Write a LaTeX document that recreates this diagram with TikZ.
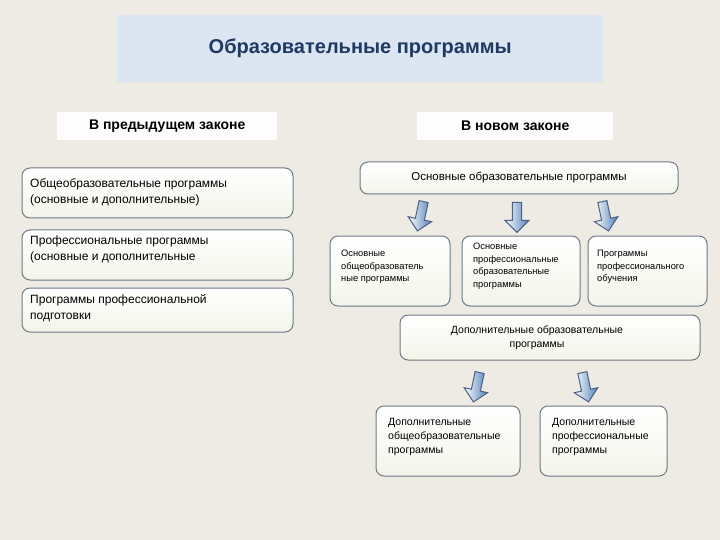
\documentclass[tikz,border=0pt]{standalone}
\usepackage{fontspec}
\setmainfont{Liberation Sans}
\usetikzlibrary{shapes.arrows}
\definecolor{bg}{HTML}{EEEBE4}
\definecolor{ttl}{HTML}{DCE6F2}
\definecolor{tblue}{HTML}{1F3864}
\definecolor{bx}{HTML}{F3F5EA}
\definecolor{ed}{HTML}{6E7A86}
\definecolor{ab}{HTML}{4F7FB8}
\tikzset{
 rbox/.style={draw=ed, line width=1pt, rounded corners=8pt, top color=white, bottom color=bx},
 hdr/.style={fill=white!92!bg, font=\bfseries\fontsize{14}{16}\selectfont},
 txt/.style={font=\fontsize{12}{16}\selectfont, align=left, anchor=north west, inner sep=0pt},
 stxt/.style={font=\fontsize{9.3}{12.5}\selectfont, align=left, anchor=north west, inner sep=0pt},
 darr/.style={single arrow, draw=tblue!80, line width=1pt, left color=white, right color=ab, minimum height=30pt, minimum width=24pt, single arrow head extend=4pt, shape border rotate=270, inner sep=2pt}
}
\begin{document}
\begin{tikzpicture}[x=1pt,y=-1pt]
\fill[bg] (0,0) rectangle (720,540);
\useasboundingbox (0,0) rectangle (720,540);
\node[fill=ttl, minimum width=486pt, minimum height=67pt, anchor=north west, font=\bfseries\fontsize{20}{22}\selectfont, text=tblue] (title) at (117,15) {Образовательные программы};
\node[text=white!85!gray, font=\fontsize{11}{12}\selectfont] (num) at (686,12) {22};
\node[hdr, minimum width=220pt, minimum height=28pt, anchor=north west] (h1) at (57,112) {В предыдущем законе};
\node[hdr, minimum width=196pt, minimum height=28pt, anchor=north west] (h2) at (417,112) {В новом законе};
% left
\draw[rbox] (22,168) rectangle (293,218);
\node[txt] (l1) at (30,178) {Общеобразовательные программы\\(основные и дополнительные)};
\draw[rbox] (22,230) rectangle (293,280);
\node[txt] (l2) at (30,236) {Профессиональные программы\\(основные и дополнительные};
\draw[rbox] (22,288) rectangle (293,332);
\node[txt] (l3) at (30,294) {Программы профессиональной\\подготовки};
% right
\draw[rbox] (360,162) rectangle (678,194);
\node[font=\fontsize{11.5}{13}\selectfont] (osn) at (519,177) {Основные образовательные программы};
\node[darr, rotate=-12] (a1) at (421,214) {};
\node[darr] (a2) at (517,215) {};
\node[darr, rotate=12] (a3) at (605,214) {};
\draw[rbox] (330,236) rectangle (450,306);
\node[stxt] (b1) at (341,250) {Основные\\общеобразователь\\ные программы};
\draw[rbox] (462,236) rectangle (580,306);
\node[stxt] (b2) at (473,243) {Основные\\профессиональные\\образовательные\\программы};
\draw[rbox] (588,236) rectangle (707,306);
\node[stxt] (b3) at (597,250) {Программы\\профессионального\\обучения};
\draw[rbox] (400,315) rectangle (700,360);
\node[font=\fontsize{10.5}{14}\selectfont, align=center] (dop) at (537,338) {Дополнительные образовательные\\программы};
\node[darr, rotate=-12] (a4) at (477,385) {};
\node[darr, rotate=12] (a5) at (585,385) {};
\draw[rbox] (376,406) rectangle (520,476);
\node[stxt, font=\fontsize{10.5}{14}\selectfont] (c1) at (388,418) {Дополнительные\\общеобразовательные\\программы};
\draw[rbox] (540,406) rectangle (667,476);
\node[stxt, font=\fontsize{10.5}{14}\selectfont] (c2) at (552,418) {Дополнительные\\профессиональные\\программы};
\end{tikzpicture}
\end{document}
